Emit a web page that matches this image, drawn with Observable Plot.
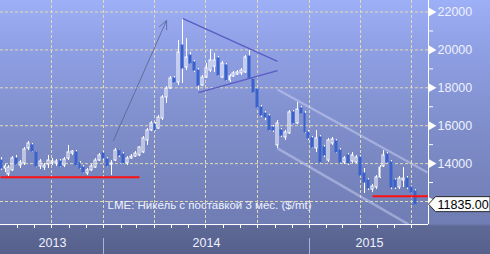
<!DOCTYPE html>
<html><head><meta charset="utf-8">
<script src="https://cdn.jsdelivr.net/npm/d3@7"></script>
<script src="https://cdn.jsdelivr.net/npm/@observablehq/plot@0.6"></script>
<style>
html,body{margin:0;padding:0;background:#57618d;}
#chart svg{display:block;}
</style></head><body><div id="chart"></div>
<script>
// Weekly LME nickel 3M candles, first week starting 2013-07-03
const startDate = "2013-07-03";
const opens = [
14160,13740,13430,13640,14270,13900,14010,14800,14960,14590,
13850,13790,13950,14010,14010,14110,13900,14270,14530,14590,
14010,13790,13480,13640,13790,14160,14530,14220,13950,14160,
14690,14480,14010,14270,14370,14430,14590,15220,15750,16060,
15850,16380,17490,17960,18490,18280,20230,19070,19700,19340,
18910,18120,18540,18910,19120,19550,18540,19180,18390,18600,
18700,18760,18810,19650,18440,17910,16960,16640,16490,15900,
14960,15750,15380,15590,16700,16120,16910,16640,15640,15330,
14800,15380,14850,14160,15060,15170,14690,14060,14430,14110,
14060,14320,13480,13110,12630,12740,13270,13850,14480,14060,
13110,12740,13110,13210,12740,12530];
const closes = [
13740,13850,13790,14270,13950,14060,14740,15060,14640,13850,
14110,13900,14160,14110,14110,13850,14220,14590,14640,13900,
13740,13530,13640,13850,14160,14430,14270,13850,14010,14690,
14430,14010,14270,14370,14530,14850,15330,15750,16120,15750,
16430,17490,17960,18490,18280,19860,19020,19600,19280,18910,
18120,18540,19020,19440,19440,18650,19280,18390,18600,18760,
18810,18910,19600,18490,17750,16960,16540,16430,15750,15750,
16120,15480,15640,16700,16120,16850,16640,15640,15330,14850,
15330,14060,14430,15220,15270,14590,14060,14270,14010,14430,
14320,13370,13000,12690,12790,13270,13790,14430,14060,12740,
12740,13210,13210,12740,12470,11835];
const highs = [
14320,13950,13900,14370,14430,14160,14850,15170,15060,14640,
14220,14010,14430,14270,14220,14220,14320,14960,14690,14690,
14110,13900,13740,13950,14270,14530,14640,14320,14160,14800,
14740,14590,14370,14480,14640,14900,15430,15850,16220,16170,
16540,17590,18070,18600,18600,20500,21660,20600,19860,19440,
19020,18650,19280,20020,19810,19650,19390,19280,18700,18860,
18910,19020,19700,19970,18490,17960,17070,16750,16590,16010,
16270,15850,15750,16800,16800,17220,17010,16750,15750,15430,
15750,15480,14960,15330,15380,15270,14800,14370,14530,14590,
14430,14430,13740,13210,12900,13370,13900,14690,14590,14160,
13210,13320,13790,13320,12790,12630];
const lows = [
13640,13530,13320,13580,13900,13740,13900,14690,14590,13790,
13690,13640,13740,13900,13850,13790,13790,14160,14430,13850,
13690,13480,13370,13580,13740,14110,14160,13790,13370,14110,
14320,13950,13900,14220,14320,14370,14530,14960,15690,15690,
15800,16270,17170,17910,18230,18120,18230,18910,19230,18810,
17860,18070,18490,18810,18810,18600,18490,18330,18280,18540,
18650,18650,18760,18440,17700,16910,16430,16270,15690,15640,
14800,15380,15220,15540,16060,16060,16590,15590,15220,14800,
14590,14010,14320,14060,14960,14530,14010,13950,13900,14010,
14010,13320,12420,12580,12470,12630,13210,13790,14010,12630,
12630,12630,12740,12630,12420,11800];

const xDomain = [new Date("2013-07-02"), new Date("2015-07-31")];
const yDomain = [10787, 22607];
const yTicks = [12000, 14000, 16000, 18000, 20000, 22000];
const yLabelTicks = [14000, 16000, 18000, 20000, 22000]; // 12000 is hidden under the price box
const yMinor = [13000, 15000, 17000, 19000, 21000];
const quarterDates = ["2013-07-01","2013-10-01","2014-01-01","2014-04-01","2014-07-01","2014-10-01","2015-01-01","2015-04-01","2015-07-01"];
const yearStarts = ["2014-01-01","2015-01-01"];
const years = ["2013","2014","2015"];
const redLines = [
  {x1:"2013-07-02", x2:"2014-03-05", y:13280},
  {x1:"2015-04-22", x2:"2015-07-31", y:12280}];
const triangleLines = [
  {x1:"2014-05-21", y1:21660, x2:"2014-11-05", y2:19390},
  {x1:"2014-06-18", y1:17750, x2:"2014-11-05", y2:18910}];
const channelLines = [
  {x1:"2014-11-05", y1:17910, x2:"2015-07-29", y2:13530},
  {x1:"2014-11-05", y1:14800, x2:"2015-06-25", y2:10790}];
const trendArrow = [{x1:"2014-01-19", y1:15220, x2:"2014-04-22", y2:21550}];
const lastPrice = 11835;
const lastPriceText = "11835.00";
const seriesLabel = "LME: Никель с поставкой 3 мес. ($/mt)";

const blue = "#3a62cc";
const candles = opens.map((o, i) => {
  const date = d3.utcDay.offset(new Date(startDate), 7 * i);
  return {date, x1: d3.utcHour.offset(date, -42), x2: d3.utcHour.offset(date, 42),
    open: o, close: closes[i], high: highs[i], low: lows[i],
    top: Math.max(o, closes[i]), bot: Math.min(o, closes[i]), up: closes[i] >= o};
});
const upC = candles.filter(d => d.up), downC = candles.filter(d => !d.up);
const toD = s => new Date(s);
const yearLabels = years.map(y => {
  const a = Math.max(+new Date(`${y}-01-01`), +xDomain[0]);
  const b = Math.min(+new Date(`${+y + 1}-01-01`), +xDomain[1]);
  return {year: y, mid: new Date((a + b) / 2)};
});
const monthDates = d3.utcMonth.range(new Date("2013-07-01"), xDomain[1]);
const font = "'Liberation Sans', Arial, sans-serif";
const txt = "#eef1ff";
const gridColor = "#e2dab4";

// custom mark: the price flag box on the right axis, placed through the scales
function priceBox(index, scales, values, dimensions) {
  const px = scales.x(xDomain[1]), py = scales.y(lastPrice);
  const p = document.createElementNS("http://www.w3.org/2000/svg", "path");
  p.setAttribute("d", `M${px + 0.5},${py} L${px + 7.5},${py - 7.5} H${dimensions.width} V${py + 7.5} H${px + 7.5} Z`);
  p.setAttribute("fill", "#fbfbfb");
  p.setAttribute("stroke", "#2a2a2a");
  p.setAttribute("stroke-width", "1");
  return p;
}

const plot = Plot.plot({
  width: 490, height: 254,
  marginLeft: 0, marginRight: 62, marginTop: 0, marginBottom: 30,
  style: {
    background: "linear-gradient(to bottom, #9dafF6 0px, #8f9fe4 50px, #8494d3 100px, #7987c2 160px, #707db4 224px, #5e6996 226px, #56608b 254px)",
    fontFamily: font, fontSize: "12.5px", color: txt, overflow: "visible"
  },
  x: {type: "utc", domain: xDomain, round: true, axis: null},
  y: {domain: yDomain, axis: null},
  marks: [
    Plot.gridY({ticks: yTicks, stroke: gridColor, strokeOpacity: 1, strokeDasharray: "3,2"}),
    Plot.gridX({ticks: quarterDates.map(toD), stroke: gridColor, strokeOpacity: 1, strokeDasharray: "3,2"}),
    Plot.link(channelLines, {x1: d => toD(d.x1), y1: "y1", x2: d => toD(d.x2), y2: "y2", stroke: "#d4daf8", strokeOpacity: 0.45, strokeWidth: 2.5}),
    Plot.text([seriesLabel], {frameAnchor: "bottom-left", dx: 107, dy: -16, textAnchor: "start", fill: "#eef2ff", fontSize: 11.5}),
    // wicks
    Plot.ruleX(candles, {x: "date", y1: "high", y2: "top", stroke: "white", strokeWidth: 1}),
    Plot.ruleX(candles, {x: "date", y1: "bot", y2: "low", stroke: "white", strokeWidth: 1}),
    // bodies
    Plot.rect(upC, {x1: "x1", x2: "x2", y1: "open", y2: "close", fill: "none", stroke: "white", strokeWidth: 1}),
    Plot.rect(downC, {x1: "x1", x2: "x2", y1: "open", y2: "close", fill: blue, stroke: blue, strokeWidth: 1}),
    // annotations
    Plot.link(redLines, {x1: d => toD(d.x1), x2: d => toD(d.x2), y1: "y", y2: "y", stroke: "#ff1010", strokeWidth: 2}),
    Plot.link(triangleLines, {x1: d => toD(d.x1), y1: "y1", x2: d => toD(d.x2), y2: "y2", stroke: "#5a5cc4", strokeWidth: 1.3}),
    Plot.arrow(trendArrow, {x1: d => toD(d.x1), y1: "y1", x2: d => toD(d.x2), y2: "y2", stroke: "#56638f", strokeOpacity: 0.8, strokeWidth: 1, headLength: 14, headAngle: 50}),
    // axes
    Plot.ruleY([yDomain[0]], {stroke: "white"}),
    Plot.ruleX([xDomain[1]], {stroke: "white"}),
    Plot.axisY({anchor: "right", ticks: yMinor, tickSize: 4, tickFormat: () => "", stroke: "white", label: null}),
    Plot.dot(yTicks, {x: () => xDomain[1], y: d => d, symbol: "triangle", r: 3.2, rotate: 90, fill: "white", dx: 3}),
    Plot.axisY({anchor: "right", ticks: yLabelTicks, tickSize: 0, tickPadding: 9, tickFormat: d => String(d), fill: txt, label: null}),
    Plot.axisX({ticks: monthDates, tickSize: 4, tickFormat: () => "", stroke: "white", label: null}),
    Plot.axisX({ticks: yearStarts.map(toD), tickSize: 16, dy: 14, tickFormat: () => "", stroke: "#a9b2dc", label: null}),
    Plot.text(yearLabels, {x: "mid", text: "year", frameAnchor: "bottom", dy: 22, fill: txt}),
    priceBox,
    Plot.text([lastPriceText], {x: () => xDomain[1], y: () => lastPrice, dx: 9, textAnchor: "start", fill: "#000"})
  ]
});
document.getElementById("chart").appendChild(plot);
</script></body></html>
